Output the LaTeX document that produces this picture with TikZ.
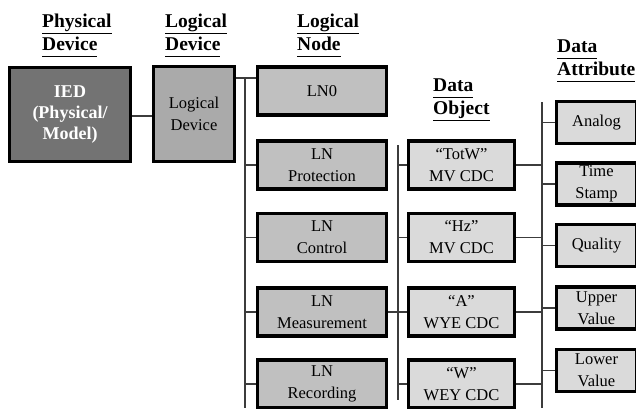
\documentclass[tikz,border=0pt]{standalone}
\usepackage{fontspec}
\setmainfont{Liberation Serif}
\definecolor{iedfill}{RGB}{115,115,115}
\definecolor{ldfill}{RGB}{170,170,170}
\definecolor{lnfill}{RGB}{192,192,192}
\definecolor{dofill}{RGB}{218,218,218}
\definecolor{dafill}{RGB}{218,218,218}
\definecolor{wire}{RGB}{60,60,60}
\newcommand\hul[1]{\underline{#1\vphantom{gy}}}
\tikzset{
  box/.style={draw=black, line width=3.2pt, rectangle, inner sep=0pt, align=center,
    font=\fontsize{16.5}{22}\selectfont},
  hdr/.style={anchor=north west, inner sep=0pt, align=left,
    font=\fontsize{19.5}{23}\selectfont\bfseries},
  wireline/.style={draw=wire, line width=1.5pt},
}
\begin{document}
\begin{tikzpicture}[x=1pt, y=-1pt]
\useasboundingbox (0,0) rectangle (636,408);
\clip (0,0) rectangle (636,408);
% headers
\node[hdr] (h1) at (42,14) {\hul{Physical}\\\hul{Device}};
\node[hdr] (h2) at (165,14) {\hul{Logical}\\\hul{Device}};
\node[hdr] (h3) at (297,14) {\hul{Logical}\\\hul{Node}};
\node[hdr] (h4) at (433,79) {\hul{Data}\\\hul{Object}};
\node[hdr] (h5) at (557,40) {\hul{Data}\\\hul{Attribute}};
% physical / logical device
\node[box, fill=iedfill, text=white, minimum width=121pt, minimum height=94pt,
  font=\fontsize{18}{21}\selectfont\bfseries] (ied) at (70,114.5) {IED\\(Physical/\\Model)};
\node[box, fill=ldfill, minimum width=81pt, minimum height=95pt] (ld) at (194,114) {Logical\\Device};
% logical nodes
\tikzset{lnbox/.style={box, fill=lnfill, minimum width=129pt, minimum height=48pt}}
\node[lnbox] (ln0) at (322,91) {LN0};
\node[lnbox] (lnp) at (322,165) {LN\\Protection};
\node[lnbox] (lnc) at (322,237.5) {LN\\Control};
\node[lnbox] (lnm) at (322,312) {LN\\Measurement};
\node[lnbox] (lnr) at (322,384) {LN\\Recording};
% data objects
\tikzset{dobox/.style={box, fill=dofill, minimum width=106pt, minimum height=48pt}}
\node[dobox] (do1) at (461.5,165) {“TotW”\\MV CDC};
\node[dobox] (do2) at (461.5,237.5) {“Hz”\\MV CDC};
\node[dobox] (do3) at (461.5,312) {“A”\\WYE CDC};
\node[dobox] (do4) at (461.5,384) {“W”\\WEY CDC};
% data attributes
\tikzset{dabox/.style={box, fill=dafill, minimum width=80pt, minimum height=42pt}}
\node[dabox] (da1) at (596.5,122.5) {Analog};
\node[dabox] (da2) at (596.5,184) {Time\\Stamp};
\node[dabox] (da3) at (596.5,245.5) {Quality};
\node[dabox] (da4) at (596.5,308) {Upper\\Value};
\node[dabox] (da5) at (596.5,370.5) {Lower\\Value};
% bus coordinates
\coordinate (b1t) at (245,78);
\coordinate (b1b) at (245,408);
\coordinate (b2t) at (398,145);
\coordinate (b2b) at (398,400);
\coordinate (b3t) at (542,102);
\coordinate (b3b) at (542,408);
% connectors
\draw[wireline] (ied.east |- 0,116) -- (ld.west |- 0,116);
\draw[wireline] (ld.east |- b1t) -- (ln0.west |- b1t);
\draw[wireline] (b1t) -- (b1b);
\foreach \n in {lnp,lnc,lnm,lnr}{\draw[wireline] (b1t |- \n.west) -- (\n.west);}
\draw[wireline] (b2t) -- (b2b);
\draw[wireline] (lnm.east) -- (do3.west);
\foreach \n in {do1,do2,do4}{\draw[wireline] (b2t |- \n.west) -- (\n.west);}
\draw[wireline] (b3t) -- (b3b);
\foreach \n in {do1,do2,do3,do4}{\draw[wireline] (\n.east) -- (b3t |- \n.east);}
\foreach \n in {da1,da2,da3,da4,da5}{\draw[wireline] (b3t |- \n.west) -- (\n.west);}
\end{tikzpicture}
\end{document}
